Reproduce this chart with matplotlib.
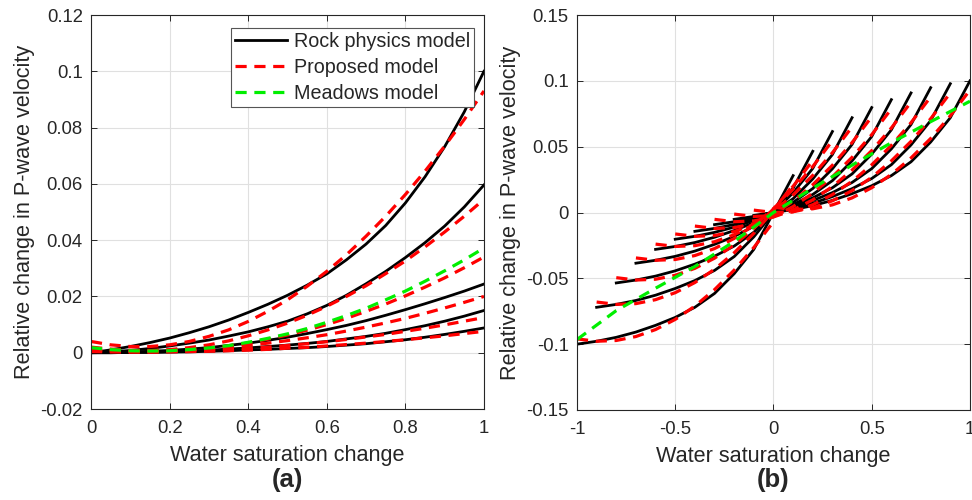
import matplotlib.pyplot as plt
import numpy as np

plt.rcParams['font.family'] = ['Liberation Sans', 'DejaVu Sans']

# ---- panel (a): velocity change vs water saturation change ----
sw_a = [0.00, 0.05, 0.10, 0.15, 0.20, 0.25, 0.30, 0.35, 0.40, 0.45, 0.50,
        0.55, 0.60, 0.65, 0.70, 0.75, 0.80, 0.85, 0.90, 0.95, 1.00]

rock_a = [
    [0.0, 0.0010, 0.0022, 0.0036, 0.0052, 0.0071, 0.0092, 0.0116, 0.0143, 0.0172, 0.0204,
     0.0240, 0.0280, 0.0330, 0.0386, 0.0452, 0.0532, 0.0625, 0.0732, 0.0856, 0.1000],
    [0.0, 0.0003, 0.0008, 0.0015, 0.0024, 0.0034, 0.0045, 0.0059, 0.0074, 0.0092, 0.0112,
     0.0138, 0.0168, 0.0204, 0.0245, 0.0289, 0.0338, 0.0391, 0.0450, 0.0518, 0.0596],
    [0.0, 0.0001, 0.0003, 0.0005, 0.0008, 0.0013, 0.0018, 0.0026, 0.0034, 0.0044, 0.0055,
     0.0068, 0.0082, 0.0097, 0.0114, 0.0133, 0.0153, 0.0174, 0.0196, 0.0219, 0.0244],
    [0.0, 0.0000, 0.0001, 0.0002, 0.0004, 0.0006, 0.0009, 0.0013, 0.0017, 0.0022, 0.0027,
     0.0033, 0.0040, 0.0049, 0.0058, 0.0069, 0.0082, 0.0096, 0.0112, 0.0130, 0.0150],
    [0.0, 0.0000, 0.0001, 0.0001, 0.0002, 0.0003, 0.0005, 0.0007, 0.0010, 0.0012, 0.0015,
     0.0018, 0.0022, 0.0027, 0.0032, 0.0039, 0.0046, 0.0055, 0.0065, 0.0076, 0.0088],
]

proposed_a = [
    [0.0040, 0.0028, 0.0022, 0.0022, 0.0028, 0.0040, 0.0058, 0.0081, 0.0111, 0.0147, 0.0188,
     0.0236, 0.0289, 0.0348, 0.0414, 0.0485, 0.0562, 0.0645, 0.0734, 0.0829, 0.0930],
    [0.0020, 0.0013, 0.0009, 0.0008, 0.0011, 0.0018, 0.0028, 0.0042, 0.0060, 0.0081, 0.0105,
     0.0133, 0.0165, 0.0200, 0.0238, 0.0281, 0.0326, 0.0376, 0.0429, 0.0485, 0.0545],
    [0.0012, 0.0007, 0.0004, 0.0003, 0.0005, 0.0009, 0.0015, 0.0024, 0.0035, 0.0048, 0.0063,
     0.0080, 0.0100, 0.0122, 0.0147, 0.0173, 0.0202, 0.0233, 0.0266, 0.0302, 0.0340],
    [0.0010, 0.0008, 0.0007, 0.0007, 0.0008, 0.0011, 0.0015, 0.0020, 0.0026, 0.0034, 0.0043,
     0.0053, 0.0064, 0.0077, 0.0091, 0.0106, 0.0122, 0.0140, 0.0159, 0.0179, 0.0200],
    [0.0006, 0.0004, 0.0004, 0.0004, 0.0004, 0.0006, 0.0008, 0.0012, 0.0015, 0.0020, 0.0026,
     0.0032, 0.0039, 0.0047, 0.0056, 0.0065, 0.0076, 0.0087, 0.0099, 0.0112, 0.0125],
    [0.0004, 0.0003, 0.0002, 0.0002, 0.0003, 0.0004, 0.0005, 0.0007, 0.0009, 0.0012, 0.0016,
     0.0019, 0.0024, 0.0029, 0.0034, 0.0040, 0.0046, 0.0053, 0.0060, 0.0068, 0.0076],
]

meadows_a = [0.0018, 0.0011, 0.0007, 0.0006, 0.0007, 0.0011, 0.0017, 0.0025, 0.0037, 0.0051, 0.0067,
             0.0086, 0.0108, 0.0132, 0.0158, 0.0188, 0.0219, 0.0254, 0.0291, 0.0330, 0.0372]

# ---- panel (b): one curve per initial saturation, x = change from it ----
sw_init = [0.0, 0.1, 0.2, 0.3, 0.4, 0.5, 0.6, 0.7, 0.8, 0.9, 1.0]
sw_final = [0.0, 0.1, 0.2, 0.3, 0.4, 0.5, 0.6, 0.7, 0.8, 0.9, 1.0]

rock_b = [
    [0.0, 0.0022, 0.0052, 0.0092, 0.0143, 0.0203, 0.0280, 0.0385, 0.0535, 0.0720, 0.1000],
    [-0.0022, 0.0, 0.0030, 0.0070, 0.0121, 0.0181, 0.0258, 0.0363, 0.0513, 0.0698, 0.0978],
    [-0.0052, -0.0030, 0.0, 0.0040, 0.0091, 0.0151, 0.0228, 0.0333, 0.0483, 0.0668, 0.0948],
    [-0.0092, -0.0070, -0.0040, 0.0, 0.0051, 0.0111, 0.0188, 0.0293, 0.0443, 0.0628, 0.0908],
    [-0.0143, -0.0121, -0.0091, -0.0051, 0.0, 0.0060, 0.0137, 0.0242, 0.0392, 0.0577, 0.0857],
    [-0.0203, -0.0181, -0.0151, -0.0111, -0.0060, 0.0, 0.0077, 0.0182, 0.0332, 0.0517, 0.0797],
    [-0.0280, -0.0258, -0.0228, -0.0188, -0.0137, -0.0077, 0.0, 0.0105, 0.0255, 0.0440, 0.0720],
    [-0.0385, -0.0363, -0.0333, -0.0293, -0.0242, -0.0182, -0.0105, 0.0, 0.0150, 0.0335, 0.0615],
    [-0.0535, -0.0513, -0.0483, -0.0443, -0.0392, -0.0332, -0.0255, -0.0150, 0.0, 0.0185, 0.0465],
    [-0.0720, -0.0698, -0.0668, -0.0628, -0.0577, -0.0517, -0.0440, -0.0335, -0.0185, 0.0, 0.0280],
    [-0.1000, -0.0978, -0.0948, -0.0908, -0.0857, -0.0797, -0.0720, -0.0615, -0.0465, -0.0280, 0.0],
]

proposed_b = [
    [0.0040, 0.0022, 0.0028, 0.0058, 0.0111, 0.0188, 0.0289, 0.0414, 0.0562, 0.0734, 0.0930],
    [0.0018, 0.0000, 0.0006, 0.0036, 0.0089, 0.0166, 0.0267, 0.0392, 0.0540, 0.0712, 0.0908],
    [-0.0012, -0.0030, -0.0024, 0.0006, 0.0059, 0.0136, 0.0237, 0.0362, 0.0510, 0.0682, 0.0878],
    [-0.0052, -0.0070, -0.0064, -0.0034, 0.0019, 0.0096, 0.0197, 0.0322, 0.0470, 0.0642, 0.0838],
    [-0.0103, -0.0121, -0.0115, -0.0085, -0.0032, 0.0045, 0.0146, 0.0271, 0.0419, 0.0591, 0.0787],
    [-0.0163, -0.0181, -0.0175, -0.0145, -0.0092, -0.0015, 0.0086, 0.0211, 0.0359, 0.0531, 0.0727],
    [-0.0240, -0.0258, -0.0252, -0.0222, -0.0169, -0.0092, 0.0009, 0.0134, 0.0282, 0.0454, 0.0650],
    [-0.0345, -0.0363, -0.0357, -0.0327, -0.0274, -0.0197, -0.0096, 0.0029, 0.0177, 0.0349, 0.0545],
    [-0.0495, -0.0513, -0.0507, -0.0477, -0.0424, -0.0347, -0.0246, -0.0121, 0.0027, 0.0199, 0.0395],
    [-0.0680, -0.0698, -0.0692, -0.0662, -0.0609, -0.0532, -0.0431, -0.0306, -0.0158, 0.0014, 0.0210],
    [-0.0960, -0.0978, -0.0972, -0.0942, -0.0889, -0.0812, -0.0711, -0.0586, -0.0438, -0.0266, -0.0070],
]

meadows_dsw = [-1.0, -0.8, -0.6, -0.4, -0.2, 0.0, 0.2, 0.4, 0.6, 0.8, 1.0]
meadows_b = [-0.0965, -0.0745, -0.0575, -0.0410, -0.0220, 0.0, 0.0185, 0.0360, 0.0530, 0.0690, 0.0845]

TXT = '#262626'
GREEN = '#00ee00'
dash = (3.5, 2.4)

fig = plt.figure(figsize=(9.72, 5.0), dpi=100)
ax_a = fig.add_axes([0.0936, 0.182, 0.4043, 0.788])
ax_b = fig.add_axes([0.5936, 0.180, 0.4043, 0.790])

for curve in rock_a:
    ax_a.plot(sw_a, curve, color='black', lw=2.0)
for curve in proposed_a:
    ax_a.plot(sw_a, curve, color='red', lw=2.3, ls='--', dashes=dash)
ax_a.plot(sw_a, meadows_a, color=GREEN, lw=2.3, ls='--', dashes=dash)

for s0, curve in zip(sw_init, rock_b):
    ax_b.plot(np.array(sw_final) - s0, curve, color='black', lw=2.0)
for s0, curve in zip(sw_init, proposed_b):
    ax_b.plot(np.array(sw_final) - s0, curve, color='red', lw=2.3, ls='--', dashes=dash)
ax_b.plot(meadows_dsw, meadows_b, color=GREEN, lw=2.3, ls='--', dashes=dash)


def style(ax, xlim, ylim, xticks, xlabels, yticks, ylabels):
    ax.set_xlim(*xlim)
    ax.set_ylim(*ylim)
    ax.set_xticks(xticks, xlabels)
    ax.set_yticks(yticks, ylabels)
    ax.set_axisbelow(True)
    ax.grid(True, color='#e0e0e0', lw=0.8)
    ax.tick_params(direction='in', top=True, right=True, length=4, width=0.7,
                   labelsize=13.3, colors=TXT, pad=6)
    ax.tick_params(axis='x', pad=8)
    for sp in ax.spines.values():
        sp.set_color(TXT)
        sp.set_linewidth(0.8)
    ax.set_xlabel('Water saturation change', fontsize=15.6, color=TXT, labelpad=6)
    ax.set_ylabel('Relative change in P-wave velocity', fontsize=15.6, color=TXT, labelpad=4)


style(ax_a, (0, 1), (-0.02, 0.12),
      [0, 0.2, 0.4, 0.6, 0.8, 1], ['0', '0.2', '0.4', '0.6', '0.8', '1'],
      [-0.02, 0, 0.02, 0.04, 0.06, 0.08, 0.1, 0.12],
      ['-0.02', '0', '0.02', '0.04', '0.06', '0.08', '0.1', '0.12'])
style(ax_b, (-1, 1), (-0.15, 0.15),
      [-1, -0.5, 0, 0.5, 1], ['-1', '-0.5', '0', '0.5', '1'],
      [-0.15, -0.1, -0.05, 0, 0.05, 0.1, 0.15],
      ['-0.15', '-0.1', '-0.05', '0', '0.05', '0.1', '0.15'])

handles = [
    plt.Line2D([], [], color='black', lw=2.0),
    plt.Line2D([], [], color='red', lw=2.3, ls='--', dashes=dash),
    plt.Line2D([], [], color=GREEN, lw=2.3, ls='--', dashes=dash),
]
leg = ax_a.legend(handles, ['Rock physics model', 'Proposed model', 'Meadows model'],
                  loc='upper right', bbox_to_anchor=(0.975, 0.968), fontsize=14.2,
                  frameon=True, fancybox=False, framealpha=1, edgecolor='#555555',
                  handlelength=2.65, handletextpad=0.35, labelspacing=0.36,
                  borderpad=0.2, borderaxespad=0)
leg.get_frame().set_linewidth(0.8)
for t in leg.get_texts():
    t.set_color(TXT)

fig.text(0.2958, 1 - 480 / 500, '(a)', ha='center', va='center', fontsize=18.5,
         fontweight='bold', color=TXT)
fig.text(0.7958, 1 - 480 / 500, '(b)', ha='center', va='center', fontsize=18.5,
         fontweight='bold', color=TXT)

fig.savefig('out.png', dpi=100)
